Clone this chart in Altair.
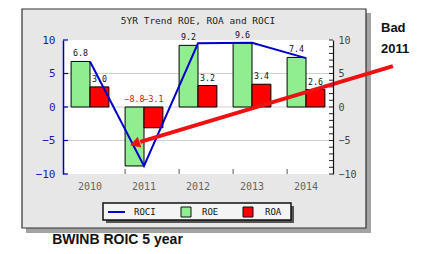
import altair as alt
import pandas as pd

years = ["2010", "2011", "2012", "2013", "2014"]
roe = [6.8, -8.8, 9.2, 9.6, 7.4]
roa = [3.0, -3.1, 3.2, 3.4, 2.6]
roci = [6.8, -8.8, 9.5, 9.6, 7.3]
series_names = ["ROE", "ROA"]
series_colors = ["#90ee90", "#ff0000"]
y_ticks = [-10, -5, 0, 5, 10]
grid_vals = [-5, 0, 5]
minor_ticks = list(range(-10, 11))
# annotation arrow, in (year index, value) units
arrow_x = [5.61, 0.93]
arrow_y = [6.1, -5.2]
arrow_head = (0.86, -5.4)

W, H = 270, 134
MONO = "DejaVu Sans Mono"
SANS = "Liberation Sans"

bars_df = pd.DataFrame(
    [{"year": y, "series": "ROE", "value": v} for y, v in zip(years, roe)]
    + [{"year": y, "series": "ROA", "value": v} for y, v in zip(years, roa)]
)
line_df = pd.DataFrame({"year": years, "value": roci})
one = pd.DataFrame({"a": [0]})

yscale = alt.Scale(domain=[-10, 10], nice=False, zero=False)
xscale = alt.Scale(domain=years, paddingInner=0.3, paddingOuter=0.15)

x_axis = alt.Axis(title=None, labelAngle=0, ticks=False, domain=False,
                  labelColor="#666666", labelFont=MONO, labelFontSize=10,
                  labelPadding=7, zindex=1)
y_axis = alt.Axis(title=None, values=y_ticks, ticks=False, grid=False,
                  labelOverlap=False, domainColor="#0000b0", domainWidth=1.5,
                  labelColor="#1a1ab0", labelFont=MONO, labelFontSize=11,
                  labelPadding=8, zindex=1)

def xm(**kw):
    return alt.X("year:N", sort=years, scale=xscale, axis=x_axis, **kw)

def ym(field):
    return alt.Y(field, scale=yscale, axis=y_axis)

XO = alt.XOffset("series:N", sort=series_names,
                 scale=alt.Scale(domain=series_names, paddingInner=0, paddingOuter=0))

def deco_rect(x, x2, y, y2, fill, stroke=None, sw=1.0):
    kw = dict(fill=fill)
    if stroke:
        kw.update(stroke=stroke, strokeWidth=sw)
    return alt.Chart(one).mark_rect(**kw).encode(
        x=alt.value(x), x2=alt.value(x2), y=alt.value(y), y2=alt.value(y2))

panel_shadow = deco_rect(-37, 308, -27, 193, "#a3a3a3")
panel = deco_rect(-41, 303, -31, 188, "#e7e7e7", "#333333", 1.2)
plot_bg = deco_rect(0, W, 0, H, "#ffffff")

grid = alt.Chart(pd.DataFrame({"value": grid_vals})).mark_rule(
    color="#cfcfcf", strokeWidth=1).encode(y=ym("value:Q"), x=alt.value(0), x2=alt.value(W))

left_ticks = alt.Chart(pd.DataFrame({"value": y_ticks})).mark_rule(
    color="#0000b0", strokeWidth=1.2).encode(y=ym("value:Q"), x=alt.value(0), x2=alt.value(5))

x_ticks = alt.Chart(pd.DataFrame({"year": years[1:]})).mark_rule(
    color="#555555", strokeWidth=1).encode(
    x=xm(bandPosition=0), y=alt.value(H), y2=alt.value(H - 5))

bars = alt.Chart(bars_df).mark_bar(stroke="black", strokeWidth=1).encode(
    x=xm(), xOffset=XO, y=ym("value:Q"), y2=alt.datum(0),
    color=alt.Color("series:N", scale=alt.Scale(domain=series_names, range=series_colors), legend=None))

line = alt.Chart(line_df).mark_line(color="#0000cc", strokeWidth=2).encode(
    x=xm(), y=ym("value:Q"))

labels = alt.Chart(bars_df).transform_calculate(
    ly="max(datum.value, 0)",
    lbl="format(datum.value, '.1f')",
).mark_text(font=MONO, fontSize=8.3, baseline="bottom", dy=-3).encode(
    x=xm(), xOffset=XO,
    y=ym("ly:Q"), text="lbl:N",
    color=alt.condition("datum.value < 0", alt.value("#cc1111"), alt.value("#111111")))

title = alt.Chart(one).mark_text(font=MONO, fontSize=9.5, color="#222222").encode(
    x=alt.value(W / 2), y=alt.value(-19), text=alt.value("5YR Trend ROE, ROA and ROCI"))

# custom legend
leg_shadow = deco_rect(43, 231, 166, 183, "#555555")
leg_box = deco_rect(40, 228, 163, 180, "#f4f4f4", "#111111", 1.5)
leg_line = alt.Chart(one).mark_rule(color="#0000cc", strokeWidth=2).encode(
    x=alt.value(45), x2=alt.value(62), y=alt.value(172))
leg_g = deco_rect(118, 128, 167, 177, "#90ee90", "#111111", 1)
leg_r = deco_rect(180, 190, 167, 177, "#ff0000", "#111111", 1)
leg_texts = [
    alt.Chart(one).mark_text(font=MONO, fontSize=9, align="left", baseline="middle", color="#111111").encode(
        x=alt.value(xx), y=alt.value(172), text=alt.value(t))
    for xx, t in [(71, "ROCI"), (139, "ROE"), (202, "ROA")]
]

caption = alt.Chart(one).mark_text(font=SANS, fontSize=14, fontWeight="bold", color="#111111",
                                   baseline="alphabetic").encode(
    x=alt.value(54.5), y=alt.value(204), text=alt.value("BWINB ROIC 5 year"))
bad1 = alt.Chart(one).mark_text(font=SANS, fontSize=13, fontWeight="bold", color="#111111",
                                align="left", baseline="alphabetic").encode(
    x=alt.value(318), y=alt.value(-8), text=alt.value("Bad"))
bad2 = alt.Chart(one).mark_text(font=SANS, fontSize=13, fontWeight="bold", color="#111111",
                                align="left", baseline="alphabetic").encode(
    x=alt.value(318), y=alt.value(13), text=alt.value("2011"))

main = alt.layer(panel_shadow, panel, plot_bg, grid, bars, line, labels,
                 left_ticks, x_ticks, title, leg_shadow, leg_box, leg_line, leg_g, leg_r,
                 *leg_texts, caption, bad1, bad2)

right = alt.Chart(pd.DataFrame({"value": minor_ticks})).mark_rule(
    color="#222222", strokeWidth=1).encode(
    y=alt.Y("value:Q", scale=yscale,
            axis=alt.Axis(orient="right", title=None, values=y_ticks, ticks=False, grid=False,
                          labelOverlap=False, domainColor="#111111", domainWidth=1.2,
                          labelColor="#444444", labelFont=MONO, labelFontSize=10,
                          labelPadding=5, zindex=1)),
    x=alt.value(W - 4), x2=alt.value(W))

ascale_x = alt.Scale(domain=[-0.5, 4.5], nice=False, zero=False)
arrow_df = pd.DataFrame({"x": arrow_x, "y": arrow_y})
arrow_line = alt.Chart(arrow_df).mark_line(color="#ee1111", strokeWidth=4, strokeCap="butt", clip=False).encode(
    x=alt.X("x:Q", scale=ascale_x, axis=None), y=alt.Y("y:Q", scale=yscale, axis=None))
head_df = pd.DataFrame({"x": [arrow_head[0]], "y": [arrow_head[1]]})
arrow_headm = alt.Chart(head_df).mark_point(shape="triangle", filled=True, color="#ee1111",
                                            size=130, angle=252, opacity=1).encode(
    x=alt.X("x:Q", scale=ascale_x, axis=None), y=alt.Y("y:Q", scale=yscale, axis=None))
arrow = alt.layer(arrow_line, arrow_headm)

chart = alt.layer(main, right, arrow).resolve_scale(x="independent", y="independent").properties(
    width=W, height=H,
    autosize=alt.AutoSizeParams(type="none"),
    padding={"left": 63, "top": 40, "right": 109, "bottom": 80},
    background="#ffffff",
).configure_view(stroke=None)

chart.save("out.html", embed_options={"renderer": "svg", "actions": False})
